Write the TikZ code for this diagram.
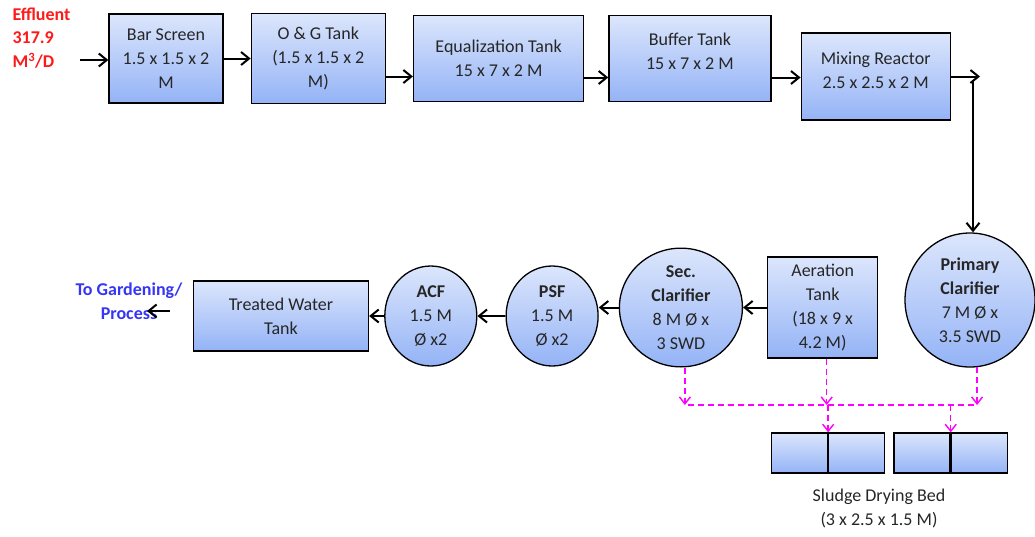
\documentclass[tikz,border=0pt]{standalone}
\usepackage{fontspec}
\setmainfont{Carlito}
\usepackage{xcolor}
\usepackage{tikz}
\usetikzlibrary{shapes.geometric, arrows.meta, positioning, calc}

\definecolor{boxtop}{HTML}{DCE6FC}
\definecolor{boxbot}{HTML}{94B3F6}
\definecolor{txtgray}{HTML}{262626}
\definecolor{sludgepink}{HTML}{FF00FF}
\definecolor{inred}{HTML}{FF1A1A}
\definecolor{outblue}{HTML}{3535F5}

\begin{document}
\begin{tikzpicture}[
  x=1pt, y=-1pt,
  every node/.style={font=\fontsize{18}{24}\selectfont, text=txtgray},
  tank/.style={rectangle, draw=black, line width=1.3pt, top color=boxtop, bottom color=boxbot, align=center, inner sep=0pt},
  clar/.style={ellipse, draw=black, line width=1.3pt, top color=boxtop, bottom color=boxbot, align=center, inner sep=0pt},
  bedcell/.style={tank, minimum width=56pt, minimum height=40pt},
  arrow/.style={-{Straight Barb[length=8pt,width=13pt]}, line width=2pt},
  sludge/.style={draw=sludgepink, line width=1.4pt, dash pattern=on 6pt off 4pt},
  sludgearrow/.style={sludge, -{Straight Barb[length=7pt,width=11pt]}},
  lbl/.style={font=\fontsize{18}{23.5}\selectfont\bfseries, align=left}
]
\useasboundingbox (0,0) rectangle (1035,536);

% ── Top row ──────────────────────────────────────────────────
\node[tank, minimum width=114pt, minimum height=89pt] (bar) at (166,58.5) {Bar Screen\\1.5 x 1.5 x 2\\M};
\node[tank, minimum width=134pt, minimum height=90pt, right=27pt of bar] (og) {O \& G Tank\\(1.5 x 1.5 x 2\\M)};
\node[tank, minimum width=170pt, minimum height=86pt, right=27pt of og] (eq) {Equalization Tank\\15 x 7 x 2 M};
\node[tank, minimum width=162pt, minimum height=86pt, right=24pt of eq] (buf) {Buffer Tank\\15 x 7 x 2 M\\[-10pt]};
\node[tank, minimum width=149pt, minimum height=87pt, right=29pt of buf, yshift=-18pt] (mix) {Mixing Reactor\\2.5 x 2.5 x 2 M\\[-12pt]};

\node[lbl, text=inred, anchor=west] (eff) at (9,38) {Effluent\\317.9\\M\textsuperscript{3}/D};

% ── Bottom row ───────────────────────────────────────────────
\node[clar, minimum width=130pt, minimum height=134pt] (pc) at (970,300) {\textbf{Primary}\\\textbf{Clarifier}\\7 M Ø x\\3.5 SWD};
\node[tank, minimum width=110pt, minimum height=101pt, left=26pt of pc, yshift=-7.5pt] (aer) {Aeration\\Tank\\(18 x 9 x\\4.2 M)};
\node[clar, minimum width=123pt, minimum height=104pt, left=24pt of aer] (sec) {\textbf{Sec.}\\\textbf{Clarifier}\\8 M Ø x\\3 SWD};
\node[clar, minimum width=92pt, minimum height=100pt, left=20pt of sec, yshift=-8.5pt] (psf) {\textbf{PSF}\\1.5 M\\Ø x2};
\node[clar, minimum width=92pt, minimum height=100pt, left=28pt of psf] (acf) {\textbf{ACF}\\1.5 M\\Ø x2};
\node[tank, minimum width=175pt, minimum height=70pt, left=15pt of acf] (tw) {Treated Water\\Tank};

\node[lbl, text=outblue, align=center] (garden) at (129,301) {To Gardening/\\Process};

% ── Sludge drying beds ───────────────────────────────────────
\node[bedcell] (bed1a) at (799.5,453) {};
\node[bedcell, right=0pt of bed1a] (bed1b) {};
\node[bedcell, right=8pt of bed1b] (bed2a) {};
\node[bedcell, right=0pt of bed2a] (bed2b) {};
\node[align=center] (sdb) at (879,508) {Sludge Drying Bed\\(3 x 2.5 x 1.5 M)};

% ── Arrows ───────────────────────────────────────────────────
\coordinate (inlet) at (80,60);
\coordinate (mixout) at (980,76.5);
\coordinate (drop) at (973,80);
\coordinate (gstart) at (170,311);
\coordinate (gend) at (147,311);
\draw[arrow] (inlet) -- (inlet -| bar.west);
\draw[arrow] (bar) -- (og);
\draw[arrow] ([yshift=-18pt]og.east) -- ([yshift=-18pt]og.east -| eq.west);
\draw[arrow] ([yshift=-19pt]eq.east) -- ([yshift=-19pt]eq.east -| buf.west);
\draw[arrow] ([yshift=-19pt]buf.east) -- ([yshift=-19pt]buf.east -| mix.west);
\draw[arrow] (mix.east) -- (mixout);
\draw[arrow] (drop) -- (drop |- pc.north);
\draw[arrow] (aer) -- (sec);
\draw[arrow] (sec.west) -- (sec.west -| psf.east);
\draw[arrow] (psf) -- (acf);
\draw[arrow] (acf) -- (tw);
\draw[arrow] (gstart) -- (gend);

% ── Sludge lines ─────────────────────────────────────────────
\coordinate (hl) at (687.5,405);
\coordinate (hr) at (pc.-84 |- hl);
\draw[sludgearrow] ([xshift=4pt]sec.south) -- ([xshift=4pt]sec.south |- hl);
\draw[sludgearrow] ([xshift=4pt]aer.south) -- ([xshift=4pt]aer.south |- hl);
\draw[sludgearrow] (pc.-84) -- (hr);
\draw[sludge] (hl) -- (hr);
\draw[sludgearrow] (bed1a.north east |- hl) -- (bed1a.north east);
\draw[sludgearrow] (bed2a.north east |- hl) -- (bed2a.north east);
\end{tikzpicture}
\end{document}
